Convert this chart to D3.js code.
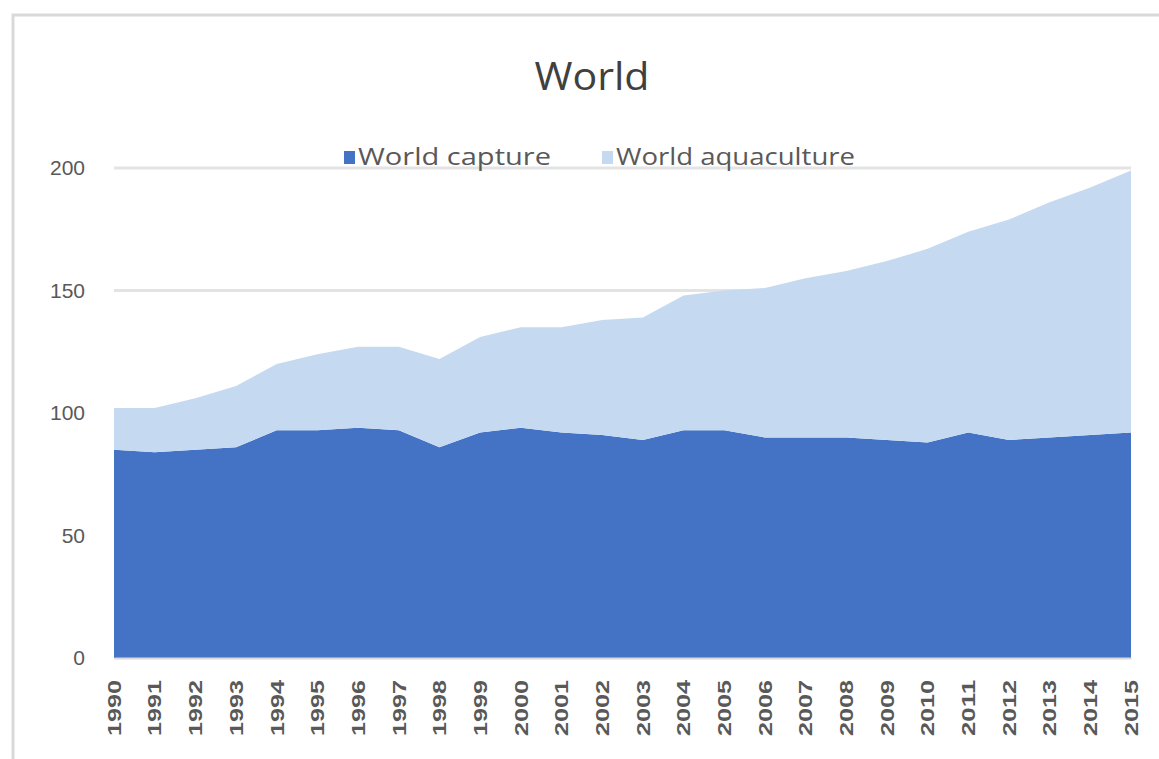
<!DOCTYPE html>
<html>
<head>
<meta charset="utf-8">
<script src="https://cdn.jsdelivr.net/npm/d3@7"></script>
<style>
  body { margin: 0; background: #fff; }
  svg { display: block; font-family: "Open Sans", "Noto Sans", sans-serif; }
</style>
</head>
<body>
<div id="chart"></div>
<script>
const years = [1990, 1991, 1992, 1993, 1994, 1995, 1996, 1997, 1998, 1999, 2000, 2001, 2002,
               2003, 2004, 2005, 2006, 2007, 2008, 2009, 2010, 2011, 2012, 2013, 2014, 2015];
// million tonnes
const capture = [85, 84, 85, 86, 93, 93, 94, 93, 86, 92, 94, 92, 91,
                 89, 93, 93, 90, 90, 90, 89, 88, 92, 89, 90, 91, 92];
const aquaculture = [17, 18, 21, 25, 27, 31, 33, 34, 36, 39, 41, 43, 47,
                     50, 55, 57, 61, 65, 68, 73, 79, 82, 90, 96, 101, 107];
const yTicks = [0, 50, 100, 150, 200];
const seriesNames = ["World capture", "World aquaculture"];
const colors = ["#4472C4", "#C5DAF0"];

const W = 1159, H = 759;
const margin = {top: 168, right: 28, bottom: 101, left: 114};
const width = W - margin.left - margin.right;
const height = H - margin.top - margin.bottom;

const svg = d3.select("#chart").append("svg")
    .attr("width", W)
    .attr("height", H);

// frame
svg.append("path")
    .attr("d", `M13,${H} L13,15 L${W},15`)
    .attr("fill", "none")
    .attr("stroke", "#d9d9d9")
    .attr("stroke-width", 3);

const g = svg.append("g")
    .attr("transform", "translate(" + margin.left + "," + margin.top + ")");

const x = d3.scaleLinear().domain([years[0], years[years.length - 1]]).range([0, width]);
const y = d3.scaleLinear().domain([0, 200]).range([height, 0]);

// gridlines
g.selectAll(".grid")
    .data(yTicks.filter(d => d > 0))
    .enter().append("line")
    .attr("x1", 0)
    .attr("x2", width)
    .attr("y1", d => y(d))
    .attr("y2", d => y(d))
    .attr("stroke", "#e3e3e3")
    .attr("stroke-width", 3);

const rows = years.map((yr, i) => ({year: yr, capture: capture[i], aquaculture: aquaculture[i]}));
const stacked = d3.stack().keys(["capture", "aquaculture"])(rows);

const area = d3.area()
    .x(d => x(d.data.year))
    .y0(d => y(d[0]))
    .y1(d => y(d[1]));

g.selectAll(".layer")
    .data(stacked)
    .enter().append("path")
    .attr("class", "layer")
    .attr("d", area)
    .attr("fill", (d, i) => colors[i]);

// y axis
const yAxis = g.append("g")
    .call(d3.axisLeft(y).tickValues(yTicks).tickSize(0).tickPadding(29));
yAxis.select(".domain").remove();
yAxis.selectAll("text")
    .attr("font-size", 21)
    .attr("fill", "#595959");

// x axis
const xAxis = g.append("g")
    .attr("transform", "translate(0," + height + ")")
    .call(d3.axisBottom(x).tickValues(years).tickFormat(d3.format("d")).tickSize(0));
xAxis.select(".domain")
    .attr("stroke", "#d9d9d9")
    .attr("stroke-width", 2);
xAxis.selectAll("text")
    .attr("font-size", 18)
    .attr("font-weight", "bold")
    .attr("fill", "#595959")
    .attr("textLength", 56)
    .attr("lengthAdjust", "spacingAndGlyphs")
    .attr("transform", "rotate(-90)")
    .attr("text-anchor", "end")
    .attr("x", -22)
    .attr("y", 0)
    .attr("dy", "0.35em");

// title
svg.append("text")
    .attr("x", 592)
    .attr("y", 90)
    .attr("text-anchor", "middle")
    .attr("font-size", 38)
    .attr("fill", "#404040")
    .attr("textLength", 115)
    .attr("lengthAdjust", "spacingAndGlyphs")
    .text("World");

// legend
const legendX = [344, 602];
const legendLen = [193, 239];
const legend = svg.selectAll(".legend")
    .data(seriesNames)
    .enter().append("g")
    .attr("transform", (d, i) => "translate(" + legendX[i] + ",157)");
legend.append("rect")
    .attr("x", 0)
    .attr("y", -6)
    .attr("width", 11)
    .attr("height", 13)
    .attr("fill", (d, i) => colors[i]);
legend.append("text")
    .attr("x", 14)
    .attr("dy", "0.35em")
    .attr("font-size", 24)
    .attr("fill", "#595959")
    .attr("textLength", (d, i) => legendLen[i])
    .attr("lengthAdjust", "spacingAndGlyphs")
    .text(d => d);
</script>
</body>
</html>
